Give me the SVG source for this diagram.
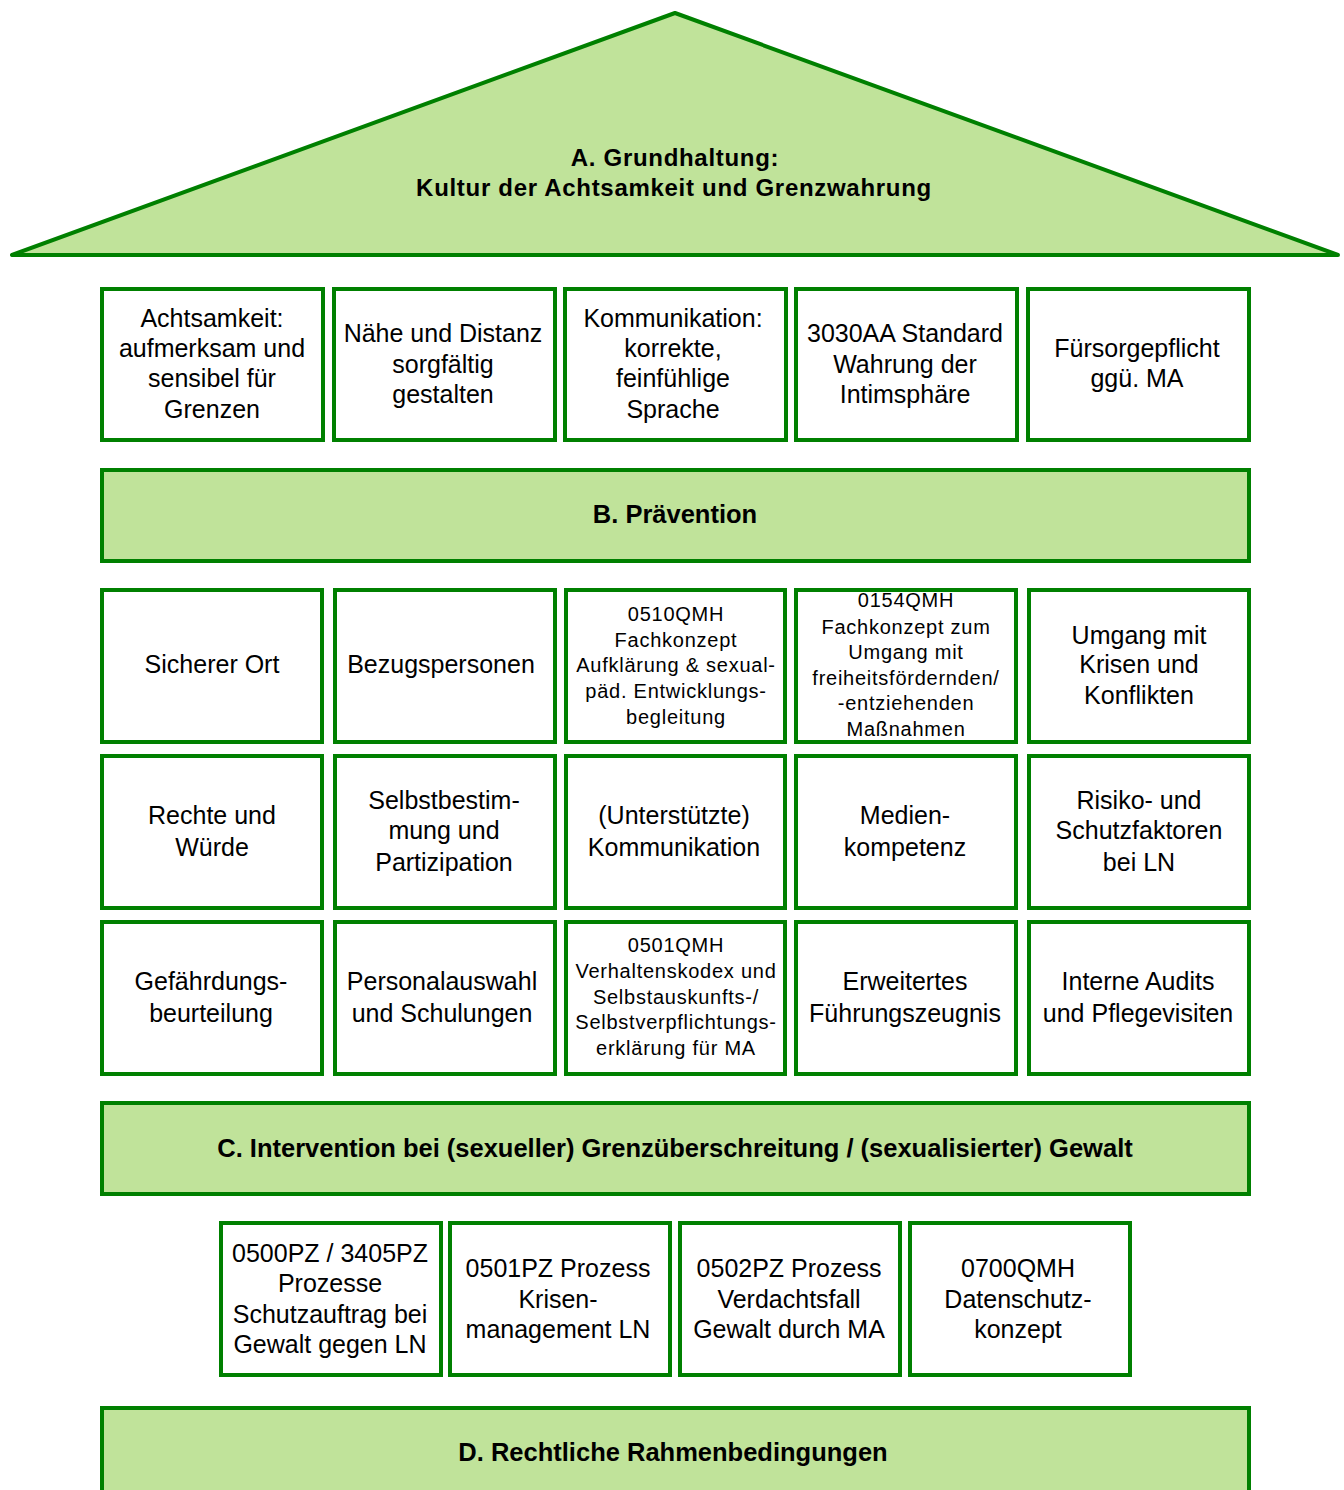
<svg xmlns="http://www.w3.org/2000/svg" width="1344" height="1490" viewBox="0 0 1344 1490">
<style>
.b{fill:#fff;stroke:#008000;stroke-width:4}
.g{fill:#c0e39a;stroke:#008000;stroke-width:4}
text{font-family:"Liberation Sans",Arial,sans-serif;fill:#000;text-anchor:middle}
.t{font-size:25px}
.s{font-size:20px;letter-spacing:0.75px}
.h{font-size:25.5px;font-weight:bold}
.r{font-size:24px;font-weight:bold;letter-spacing:0.7px}
</style>
<rect width="1344" height="1490" fill="#fff"/>
<g id="roof">
<polygon class="g" points="675,13 12,255 1338,255" stroke-linejoin="round"/>
<text class="r" x="675" y="166">A. Grundhaltung:</text>
<text class="r" x="674" y="196">Kultur der Achtsamkeit und Grenzwahrung</text>
</g>
<g id="r1">
<g id="n1"><rect class="b" x="102" y="289" width="221" height="151"/>
<text class="t" x="212"><tspan x="212" y="327">Achtsamkeit:</tspan><tspan x="212" y="357">aufmerksam und</tspan><tspan x="212" y="387">sensibel für</tspan><tspan x="212" y="418">Grenzen</tspan></text></g>
<g id="n2"><rect class="b" x="334" y="289" width="221" height="151"/>
<text class="t" x="443"><tspan x="443" y="342">Nähe und Distanz</tspan><tspan x="443" y="373">sorgfältig</tspan><tspan x="443" y="403">gestalten</tspan></text></g>
<g id="n3"><rect class="b" x="565" y="289" width="221" height="151"/>
<text class="t" x="673"><tspan x="673" y="327">Kommunikation:</tspan><tspan x="673" y="357">korrekte,</tspan><tspan x="673" y="387">feinfühlige</tspan><tspan x="673" y="418">Sprache</tspan></text></g>
<g id="n4"><rect class="b" x="796" y="289" width="221" height="151"/>
<text class="t" x="905"><tspan x="905" y="342">3030AA Standard</tspan><tspan x="905" y="373">Wahrung der</tspan><tspan x="905" y="403">Intimsphäre</tspan></text></g>
<g id="n5"><rect class="b" x="1028" y="289" width="221" height="151"/>
<text class="t" x="1137"><tspan x="1137" y="357">Fürsorgepflicht</tspan><tspan x="1137" y="387">ggü. MA</tspan></text></g>
</g>
<g id="B"><rect class="g" x="102" y="470" width="1147" height="91"/>
<text class="h" x="675" y="523">B. Prävention</text></g>
<g id="r2">
<g id="n6"><rect class="b" x="102" y="590" width="220" height="152"/>
<text class="t" x="212" y="673">Sicherer Ort</text></g>
<g id="n7"><rect class="b" x="335" y="590" width="220" height="152"/>
<text class="t" x="441" y="673">Bezugspersonen</text></g>
<g id="n8"><rect class="b" x="566" y="590" width="219" height="152"/>
<text class="s" x="676"><tspan x="676" y="621">0510QMH</tspan><tspan x="676" y="647">Fachkonzept</tspan><tspan x="676" y="672">Aufklärung &amp; sexual-</tspan><tspan x="676" y="698">päd. Entwicklungs-</tspan><tspan x="676" y="724">begleitung</tspan></text></g>
<g id="n9"><rect class="b" x="796" y="590" width="220" height="152"/>
<text class="s" x="906"><tspan x="906" y="607">0154QMH</tspan><tspan x="906" y="634">Fachkonzept zum</tspan><tspan x="906" y="659">Umgang mit</tspan><tspan x="906" y="685">freiheitsfördernden/</tspan><tspan x="906" y="710">-entziehenden</tspan><tspan x="906" y="736">Maßnahmen</tspan></text></g>
<g id="n10"><rect class="b" x="1029" y="590" width="220" height="152"/>
<text class="t" x="1139"><tspan x="1139" y="644">Umgang mit</tspan><tspan x="1139" y="673">Krisen und</tspan><tspan x="1139" y="704">Konflikten</tspan></text></g>
</g>
<g id="r3">
<g id="n11"><rect class="b" x="102" y="756" width="220" height="152"/>
<text class="t" x="212"><tspan x="212" y="824">Rechte und</tspan><tspan x="212" y="856">Würde</tspan></text></g>
<g id="n12"><rect class="b" x="335" y="756" width="220" height="152"/>
<text class="t" x="444"><tspan x="444" y="809">Selbstbestim-</tspan><tspan x="444" y="839">mung und</tspan><tspan x="444" y="871">Partizipation</tspan></text></g>
<g id="n13"><rect class="b" x="566" y="756" width="219" height="152"/>
<text class="t" x="674"><tspan x="674" y="824">(Unterstützte)</tspan><tspan x="674" y="856">Kommunikation</tspan></text></g>
<g id="n14"><rect class="b" x="796" y="756" width="220" height="152"/>
<text class="t" x="905"><tspan x="905" y="824">Medien-</tspan><tspan x="905" y="856">kompetenz</tspan></text></g>
<g id="n15"><rect class="b" x="1029" y="756" width="220" height="152"/>
<text class="t" x="1139"><tspan x="1139" y="809">Risiko- und</tspan><tspan x="1139" y="839">Schutzfaktoren</tspan><tspan x="1139" y="871">bei LN</tspan></text></g>
</g>
<g id="r4">
<g id="n16"><rect class="b" x="102" y="922" width="220" height="152"/>
<text class="t" x="211"><tspan x="211" y="990">Gefährdungs-</tspan><tspan x="211" y="1022">beurteilung</tspan></text></g>
<g id="n17"><rect class="b" x="335" y="922" width="220" height="152"/>
<text class="t" x="442"><tspan x="442" y="990">Personalauswahl</tspan><tspan x="442" y="1022">und Schulungen</tspan></text></g>
<g id="n18"><rect class="b" x="566" y="922" width="219" height="152"/>
<text class="s" x="676"><tspan x="676" y="952">0501QMH</tspan><tspan x="676" y="978">Verhaltenskodex und</tspan><tspan x="676" y="1004">Selbstauskunfts-/</tspan><tspan x="676" y="1029">Selbstverpflichtungs-</tspan><tspan x="676" y="1055">erklärung für MA</tspan></text></g>
<g id="n19"><rect class="b" x="796" y="922" width="220" height="152"/>
<text class="t" x="905"><tspan x="905" y="990">Erweitertes</tspan><tspan x="905" y="1022">Führungszeugnis</tspan></text></g>
<g id="n20"><rect class="b" x="1029" y="922" width="220" height="152"/>
<text class="t" x="1138"><tspan x="1138" y="990">Interne Audits</tspan><tspan x="1138" y="1022">und Pflegevisiten</tspan></text></g>
</g>
<g id="C"><rect class="g" x="102" y="1103" width="1147" height="91"/>
<text class="h" x="675" y="1157">C. Intervention bei (sexueller) Grenzüberschreitung / (sexualisierter) Gewalt</text></g>
<g id="r5">
<g id="n21"><rect class="b" x="221" y="1223" width="220" height="152"/>
<text class="t" x="330"><tspan x="330" y="1262">0500PZ / 3405PZ</tspan><tspan x="330" y="1292">Prozesse</tspan><tspan x="330" y="1323">Schutzauftrag bei</tspan><tspan x="330" y="1353">Gewalt gegen LN</tspan></text></g>
<g id="n22"><rect class="b" x="450" y="1223" width="220" height="152"/>
<text class="t" x="558"><tspan x="558" y="1277">0501PZ Prozess</tspan><tspan x="558" y="1308">Krisen-</tspan><tspan x="558" y="1338">management LN</tspan></text></g>
<g id="n23"><rect class="b" x="680" y="1223" width="220" height="152"/>
<text class="t" x="789"><tspan x="789" y="1277">0502PZ Prozess</tspan><tspan x="789" y="1308">Verdachtsfall</tspan><tspan x="789" y="1338">Gewalt durch MA</tspan></text></g>
<g id="n24"><rect class="b" x="910" y="1223" width="220" height="152"/>
<text class="t" x="1018"><tspan x="1018" y="1277">0700QMH</tspan><tspan x="1018" y="1308">Datenschutz-</tspan><tspan x="1018" y="1338">konzept</tspan></text></g>
</g>
<g id="D"><rect class="g" x="102" y="1408" width="1147" height="100"/>
<text class="h" x="673" y="1461">D. Rechtliche Rahmenbedingungen</text></g>
<g id="connectors"/>
</svg>
